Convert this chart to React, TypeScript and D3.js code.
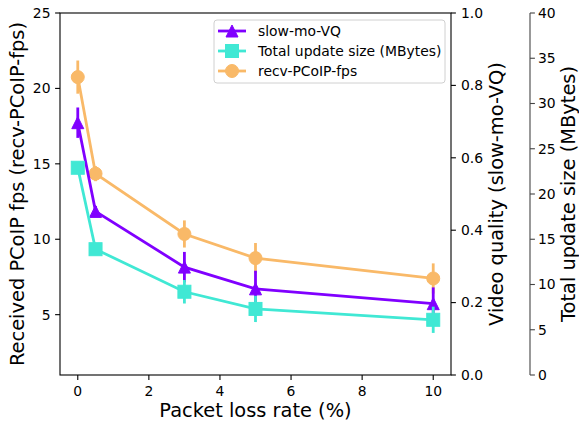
import React from "react";
import * as d3 from "d3";

const lossRates = [0, 0.5, 3, 5, 10];
const fpsValues = [20.75, 14.35, 10.35, 8.75, 7.4];
const fpsErrors = [1.1, 0.5, 0.9, 1.0, 1.0];
const vqValues = [0.697, 0.452, 0.298, 0.238, 0.197];
const vqErrors = [0.042, 0.015, 0.042, 0.05, 0.045];
const sizeValues = [22.9, 13.9, 9.2, 7.3, 6.1];
const sizeErrors = [0.4, 0.4, 1.3, 1.45, 1.45];

const xTicks = [0, 2, 4, 6, 8, 10];
const leftTicks = [5, 10, 15, 20, 25];
const rightTicks = [0, 0.2, 0.4, 0.6, 0.8, 1.0];
const farTicks = [0, 5, 10, 15, 20, 25, 30, 35, 40];

const PURPLE = "#8000ff";
const CYAN = "#40e8d4";
const ORANGE = "#f9b968";
const FONT = "DejaVu Sans, sans-serif";

const L = 60, R = 451, T = 13, B = 375;
const FAR_X = 530;

const x = d3.scaleLinear().domain([-0.5, 10.5]).range([L, R]);
const yL = d3.scaleLinear().domain([1, 25]).range([B, T]);
const yR = d3.scaleLinear().domain([0, 1]).range([B, T]);
const yF = d3.scaleLinear().domain([0, 40]).range([B, T]);

type Shape = "circle" | "square" | "triangle";

function Marker({ cx, cy, shape, color, s = 13 }: { cx: number; cy: number; shape: Shape; color: string; s?: number }) {
  if (shape === "circle") return <circle cx={cx} cy={cy} r={s / 2} fill={color} stroke={color} strokeWidth={1} />;
  if (shape === "square")
    return <rect x={cx - s / 2} y={cy - s / 2} width={s} height={s} fill={color} stroke={color} strokeWidth={1} />;
  const h = s - 1;
  return (
    <path
      d={`M${cx},${cy - h / 2}L${cx - h / 2},${cy + h / 2}L${cx + h / 2},${cy + h / 2}Z`}
      fill={color}
      stroke={color}
      strokeWidth={1}
    />
  );
}

function Series({ vals, errs, scale, color, shape }: { vals: number[]; errs: number[]; scale: d3.ScaleLinear<number, number>; color: string; shape: Shape }) {
  const line = d3.line<number>().x((_, i) => x(lossRates[i])).y((v) => scale(v));
  return (
    <g>
      {vals.map((v, i) => (
        <line key={"e" + i} x1={x(lossRates[i])} x2={x(lossRates[i])} y1={scale(v - errs[i])} y2={scale(v + errs[i])} stroke={color} strokeWidth={2.8} />
      ))}
      <path d={line(vals) || ""} fill="none" stroke={color} strokeWidth={2.8} />
      {vals.map((v, i) => (
        <Marker key={"m" + i} cx={x(lossRates[i])} cy={scale(v)} shape={shape} color={color} />
      ))}
    </g>
  );
}

const legendItems: { label: string; color: string; shape: Shape }[] = [
  { label: "slow-mo-VQ", color: PURPLE, shape: "triangle" },
  { label: "Total update size (MBytes)", color: CYAN, shape: "square" },
  { label: "recv-PCoIP-fps", color: ORANGE, shape: "circle" },
];

export default function App() {
  const tickFs = 13.9;
  const labFs = 19.4;
  return (
    <svg width={579} height={424} style={{ position: "absolute", left: 0, top: 0, background: "#fff" }} fontFamily={FONT}>
      <rect width={579} height={424} fill="#fff" />
      <Series vals={fpsValues} errs={fpsErrors} scale={yL} color={ORANGE} shape="circle" />
      <Series vals={vqValues} errs={vqErrors} scale={yR} color={PURPLE} shape="triangle" />
      <Series vals={sizeValues} errs={sizeErrors} scale={yF} color={CYAN} shape="square" />

      {/* frame */}
      <rect x={L} y={T} width={R - L} height={B - T} fill="none" stroke="#000" strokeWidth={1.1} />

      {/* x axis */}
      {xTicks.map((t) => (
        <g key={"x" + t}>
          <line x1={x(t)} x2={x(t)} y1={B} y2={B + 4.9} stroke="#000" strokeWidth={1.1} />
          <text x={x(t)} y={B + 16.5} dy="0.35em" textAnchor="middle" fontSize={tickFs} fill="#000">{t}</text>
        </g>
      ))}
      <text x={(L + R) / 2} y={417} textAnchor="middle" fontSize={labFs} fill="#000">Packet loss rate (%)</text>

      {/* left axis */}
      {leftTicks.map((t) => (
        <g key={"l" + t}>
          <line x1={L - 4.9} x2={L} y1={yL(t)} y2={yL(t)} stroke="#000" strokeWidth={1.1} />
          <text x={L - 9.5} y={yL(t)} dy="0.35em" textAnchor="end" fontSize={tickFs} fill="#000">{t}</text>
        </g>
      ))}
      <text transform={`translate(24,${(T + B) / 2}) rotate(-90)`} textAnchor="middle" fontSize={labFs} fill="#000">
        Received PCoIP fps (recv-PCoIP-fps)
      </text>

      {/* right axis */}
      {rightTicks.map((t) => (
        <g key={"r" + t}>
          <line x1={R} x2={R + 4.9} y1={yR(t)} y2={yR(t)} stroke="#000" strokeWidth={1.1} />
          <text x={R + 10} y={yR(t)} dy="0.35em" textAnchor="start" fontSize={tickFs} fill="#000">{t.toFixed(1)}</text>
        </g>
      ))}
      <text transform={`translate(503,${(T + B) / 2}) rotate(-90)`} textAnchor="middle" fontSize={labFs} fill="#000">
        Video quality (slow-mo-VQ)
      </text>

      {/* far right axis */}
      <line x1={FAR_X} x2={FAR_X} y1={T} y2={B} stroke="#444" strokeWidth={1.1} />
      {farTicks.map((t) => (
        <g key={"f" + t}>
          <line x1={FAR_X} x2={FAR_X + 4.9} y1={yF(t)} y2={yF(t)} stroke="#444" strokeWidth={1.1} />
          <text x={FAR_X + 8} y={yF(t)} dy="0.35em" textAnchor="start" fontSize={tickFs} fill="#000">{t}</text>
        </g>
      ))}
      <text transform={`translate(575,${(T + B) / 2}) rotate(-90)`} textAnchor="middle" fontSize={labFs} fill="#000">
        Total update size (MBytes)
      </text>

      {/* legend */}
      <rect x={214} y={20} width={231} height={63} rx={3} fill="#fff" fillOpacity={0.8} stroke="#d0d0d0" strokeWidth={1} />
      {legendItems.map((it, i) => {
        const cy = 31 + i * 20;
        return (
          <g key={it.label}>
            <line x1={218} x2={246} y1={cy} y2={cy} stroke={it.color} strokeWidth={2.8} />
            <Marker cx={232} cy={cy} shape={it.shape} color={it.color} />
            <text x={258} y={cy} dy="0.35em" fontSize={tickFs} fill="#000">{it.label}</text>
          </g>
        );
      })}
    </svg>
  );
}
